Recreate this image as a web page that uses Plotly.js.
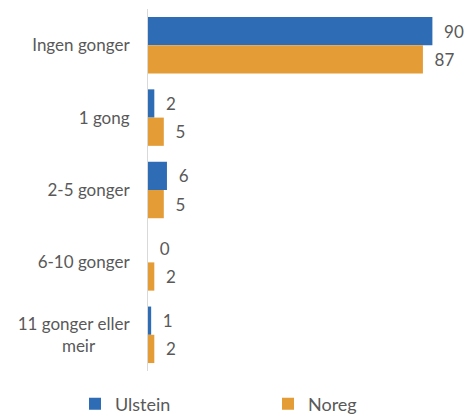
<!DOCTYPE html>
<html>
<head>
<meta charset="utf-8">
<script src="https://cdn.plot.ly/plotly-3.0.1.min.js"></script>
<style>html,body{margin:0;padding:0;background:#fff;}#chart{width:468px;height:416px;}</style>
</head>
<body>
<div id="chart"></div>
<script>
const categories = ["Ingen gonger", "1 gong", "2-5 gonger", "6-10 gonger", "11 gonger eller meir"];
const NB = "\u00A0";
const tickLabels = ["Ingen gonger", "1 gong", "2-5 gonger", "6-10 gonger", "11 gonger eller<br>meir" + NB.repeat(8)];
const ulstein = [90, 2, 6, 0, 1];
const noreg = [87, 5, 5, 2, 2];
const seriesNames = ["Ulstein", "Noreg"];

const font = {family: "Lato, sans-serif", size: 17, color: "#595959"};
const legendFont = {family: "Lato, sans-serif", size: 18, color: "#595959"};
const pad = NB + NB;

const traces = [
  {type: "bar", orientation: "h", name: seriesNames[0], y: categories, x: ulstein,
   marker: {color: "#2e6db5"}, texttemplate: pad + "%{x}", legend: "legend",
   textposition: "outside", cliponaxis: false, textfont: font},
  {type: "bar", orientation: "h", name: seriesNames[1], y: categories, x: noreg,
   marker: {color: "#e49c36"}, texttemplate: pad + "%{x}", legend: "legend2",
   textposition: "outside", cliponaxis: false, textfont: font}
];

const legendBase = {orientation: "h", xref: "container", yref: "container", xanchor: "left",
                    y: 0.029, yanchor: "middle", font: legendFont, bgcolor: "rgba(0,0,0,0)"};

const layout = {
  width: 468, height: 416,
  margin: {l: 148, r: 4, t: 9, b: 45, autoexpand: false},
  paper_bgcolor: "#fff", plot_bgcolor: "#fff",
  font: font,
  barmode: "group", bargap: 0.22, bargroupgap: 0,
  showlegend: true,
  legend: Object.assign({}, legendBase, {x: 75 / 468}),
  legend2: Object.assign({}, legendBase, {x: 268 / 468}),
  xaxis: {range: [0, 100], showgrid: false, zeroline: false, showticklabels: false, showline: false, fixedrange: true},
  yaxis: {type: "category", autorange: "reversed", tickvals: categories, ticktext: tickLabels,
          showline: true, linecolor: "#d9d9d9", linewidth: 1, showgrid: false,
          ticks: "", ticklabelstandoff: 14, tickfont: font}
};

Plotly.newPlot("chart", traces, layout, {displayModeBar: false, staticPlot: true});
</script>
</body>
</html>
